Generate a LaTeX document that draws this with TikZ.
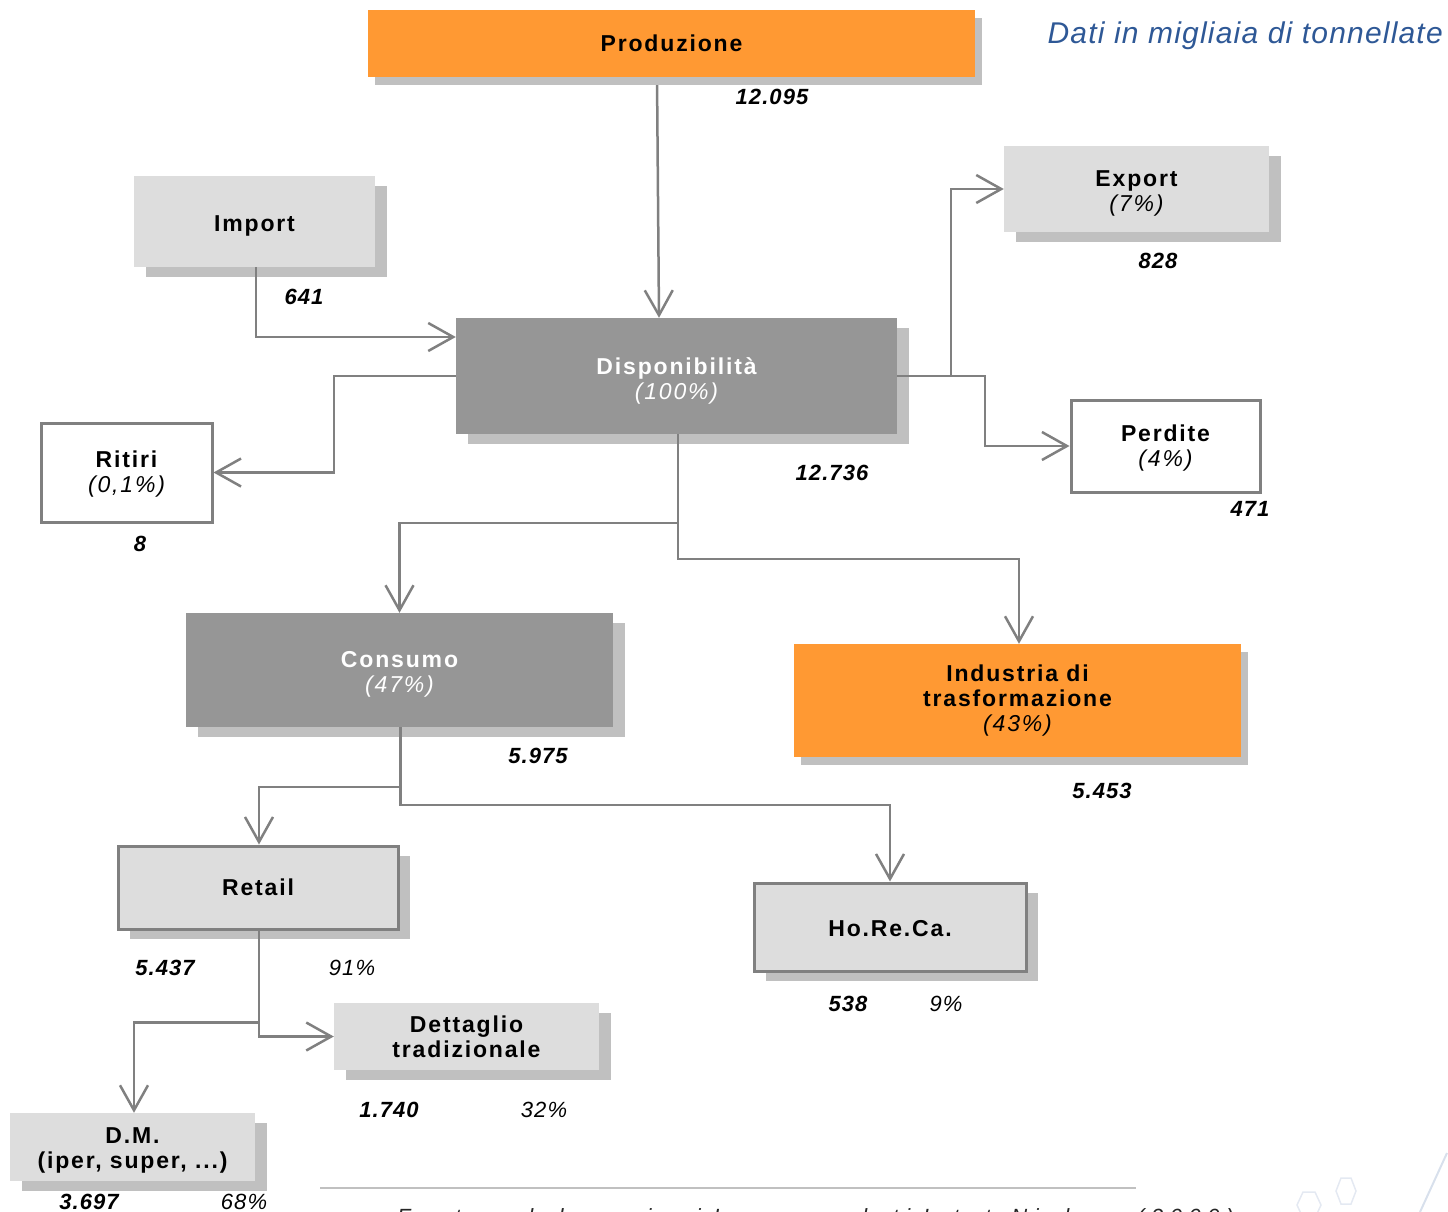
\documentclass[tikz,border=0pt]{standalone}
\usepackage{fontspec}
\setmainfont{Liberation Sans}
\usetikzlibrary{arrows.meta,shadows,calc}
\pgfdeclarelayer{bg}
\pgfsetlayers{bg,main}
\definecolor{orng}{HTML}{FF9933}
\definecolor{lgray}{HTML}{DDDDDD}
\definecolor{mgray}{HTML}{969696}
\definecolor{shgray}{HTML}{C0C0C0}
\definecolor{lnc}{HTML}{808080}
\definecolor{bluet}{HTML}{2E5896}
\definecolor{deco}{HTML}{D8E0EC}
\newcommand\upstrut[1]{\rule{0pt}{#1}}
\begin{document}
\begin{tikzpicture}[x=1pt,y=-1pt,
  box/.style={rectangle, inner sep=0pt, align=center,
    font=\fontsize{23}{25}\selectfont\bfseries\addfontfeatures{LetterSpace=8}},
  shA/.style={drop shadow={shadow xshift=12pt,shadow yshift=-10pt,fill=shgray,opacity=1}},
  shB/.style={drop shadow={shadow xshift=7pt,shadow yshift=-8pt,fill=shgray,opacity=1}},
  brd/.style={draw=lnc, line width=3pt},
  val/.style={inner sep=0pt, font=\fontsize{22}{24}\selectfont\bfseries\itshape\addfontfeatures{LetterSpace=5}},
  pct/.style={inner sep=0pt, font=\fontsize{22}{24}\selectfont\itshape\addfontfeatures{LetterSpace=5}},
  conn/.style={draw=lnc, line width=2.5pt, -{Straight Barb[length=25pt,width=28pt]}}
]
\useasboundingbox (0,0) rectangle (1448,1212);

% boxes
\node[box, shB, fill=orng, minimum width=607pt, minimum height=67pt] (prod) at (671.5,43.5) {Produzione};
\node[box, shA, fill=lgray, minimum width=241pt, minimum height=91pt] (import) at (254.5,221.5) {\upstrut{24.5pt}Import};
\node[box, shA, fill=mgray, text=white, minimum width=441pt, minimum height=116pt] (disp) at (676.5,376) {\upstrut{26pt}Disponibilità\\{\mdseries\itshape (100\%)}};
\node[box, shA, fill=lgray, minimum width=265pt, minimum height=86pt] (export) at (1136.5,189) {\upstrut{24.5pt}Export\\{\mdseries\itshape (7\%)}};
\node[box, brd, fill=white, minimum width=189pt, minimum height=92pt] (perdite) at (1165.5,446) {\upstrut{20.5pt}Perdite\\{\mdseries\itshape (4\%)}};
\node[box, brd, fill=white, minimum width=171pt, minimum height=99pt] (ritiri) at (126.5,472.5) {\upstrut{20.5pt}Ritiri\\{\mdseries\itshape (0,1\%)}};
\node[box, shA, fill=mgray, text=white, minimum width=427pt, minimum height=114pt] (consumo) at (399.5,670) {\upstrut{25pt}Consumo\\{\mdseries\itshape (47\%)}};
\node[box, shB, fill=orng, minimum width=447pt, minimum height=113pt] (industria) at (1017.5,700.5) {Industria di\\trasformazione\\{\mdseries\itshape (43\%)}};
\node[box, shA, brd, fill=lgray, minimum width=280pt, minimum height=83pt] (retail) at (258,887.5) {Retail};
\node[box, shA, brd, fill=lgray, minimum width=272pt, minimum height=88pt] (horeca) at (890,927) {\upstrut{19.5pt}Ho.Re.Ca.};
\node[box, shA, fill=lgray, minimum width=265pt, minimum height=67pt] (dett) at (466.5,1036.5) {Dettaglio\\tradizionale};
\node[box, shA, fill=lgray, minimum width=245pt, minimum height=68pt] (dm) at (132.5,1147) {\upstrut{22.5pt}D.M.\\(iper, super, ...)};

% values
\node[val] (vprod) at (772,97) {12.095};
\node[val] (vimp) at (304,297) {641};
\node[val] (vdisp) at (832,473) {12.736};
\node[val] (vexp) at (1158,261) {828};
\node[val] (vper) at (1250,509) {471};
\node[val] (vrit) at (140,544) {8};
\node[val] (vcons) at (538,756) {5.975};
\node[val] (vind) at (1102,791) {5.453};
\node[val] (vret) at (165,968) {5.437};
\node[pct] (pret) at (352,968) {91\%};
\node[val] (vhor) at (848,1004) {538};
\node[pct] (phor) at (946,1004) {9\%};
\node[val] (vdet) at (389,1110) {1.740};
\node[pct] (pdet) at (544,1110) {32\%};
\node[val] (vdm) at (89,1202) {3.697};
\node[pct] (pdm) at (244,1202) {68\%};

% note
\node[anchor=base east, inner sep=0pt, text=bluet, font=\fontsize{30}{32}\selectfont\itshape\addfontfeatures{LetterSpace=4}] (note) at (1443,44) {Dati in migliaia di tonnellate};

% source
\coordinate (sl1) at (320,1188);
\coordinate (sl2) at (1136,1188);
\draw[draw=shgray, line width=1.2pt] (sl1) -- (sl2);
\node[anchor=base west, inner sep=0pt, text=black!85, font=\fontsize{22}{24}\selectfont\itshape\addfontfeatures{LetterSpace=30}] (src) at (397,1224) {Fonte: elaborazioni Ismea su dati Istat-Nielsen (2009)};

% decoration
\draw[deco, line width=2pt] (1447,1153) -- (1420,1212);
\draw[deco!70, line width=1.5pt] (1341,1178) -- (1351,1178) -- (1356,1191) -- (1351,1204) -- (1341,1204) -- (1336,1191) -- cycle;
\draw[deco!70, line width=1.5pt] (1303,1192) -- (1315,1192) -- (1321,1205) -- (1315,1218) -- (1303,1218) -- (1297,1205) -- cycle;

% connectors
\begin{pgfonlayer}{bg}
\draw[conn] ($(prod.south)+(-14.5,0)$) -- ($(disp.north)+(-17.5,0)$);
\end{pgfonlayer}
\draw[conn] ($(import.south)+(1.5,0)$) |- ($(disp.west)+(0,-39)$);
\draw[conn] (disp.west) -- ++(-122,0) |- (ritiri.east);
\draw[conn] (disp.east) -- ++(54,0) |- (export.west);
\draw[conn] (disp.east) -- ++(88,0) |- (perdite.west);
\draw[conn] ($(disp.south)+(1.5,0)$) -- ++(0,89) -| (consumo.north);
\draw[conn] ($(disp.south)+(1.5,0)$) -- ++(0,125) -| ($(industria.north)+(1.5,0)$);
\draw[conn] ($(consumo.south)+(1,0)$) -- ++(0,60) -| ($(retail.north)+(1,0)$);
\draw[conn] ($(consumo.south)+(1,0)$) -- ++(0,78) -| (horeca.north);
\draw[conn] ($(retail.south)+(1,0)$) |- (dett.west);
\draw[conn] ($(retail.south)+(1,0)$) -- ++(0,92) -| ($(dm.north)+(1.5,0)$);
\end{tikzpicture}
\end{document}
